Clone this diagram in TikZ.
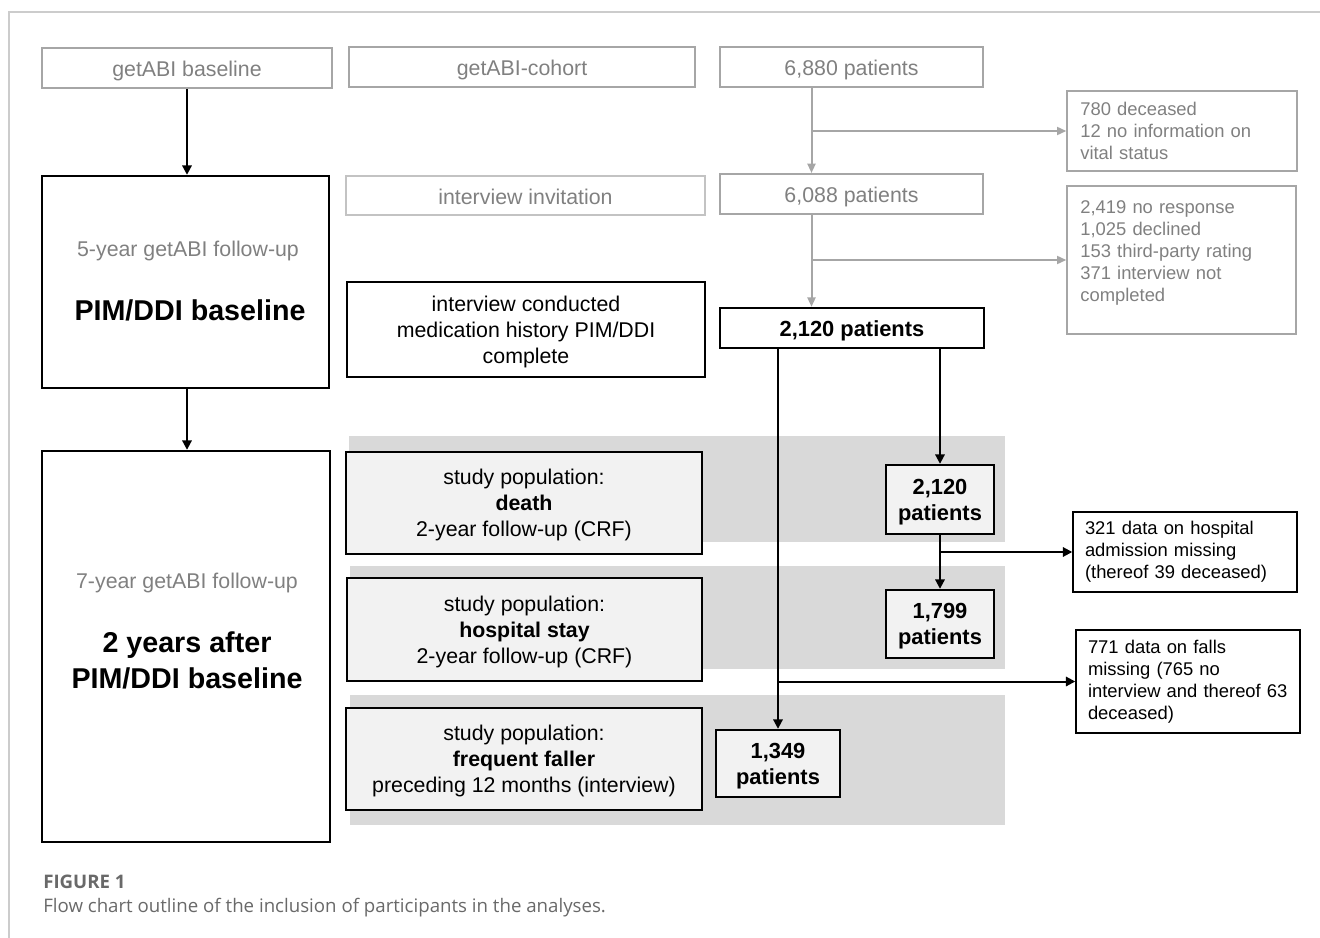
\documentclass[tikz,border=0pt]{standalone}
\usepackage{fontspec}
\setmainfont{Liberation Sans}
\newfontfamily\capfont{Open Sans}
\usepackage{tikz}
\usetikzlibrary{arrows.meta,calc}
\definecolor{framegrey}{RGB}{204,204,204}
\definecolor{boxgrey}{RGB}{166,166,166}
\definecolor{lightgrey}{RGB}{195,195,195}
\definecolor{textgrey}{RGB}{128,128,128}
\definecolor{bandgrey}{RGB}{217,217,217}
\definecolor{fillgrey}{RGB}{242,242,242}
\definecolor{capgrey}{RGB}{105,105,105}

\tikzset{
  greybox/.style={draw=boxgrey, line width=1.5pt, text=textgrey, inner sep=0pt, text height=13pt, text depth=0pt, font=\fontsize{16}{19.5}\selectfont},
  blackbox/.style={draw=black, line width=1.8pt, inner sep=0pt, align=center, text depth=0pt, font=\fontsize{16}{19.5}\selectfont},
  studybox/.style={blackbox, fill=fillgrey},
  countbox/.style={blackbox, fill=fillgrey, font=\bfseries\fontsize{16.4}{19.5}\selectfont},
  notegrey/.style={draw=boxgrey, line width=1pt, text=textgrey, align=left, inner xsep=10pt, inner ysep=0pt, font=\fontsize{13.8}{16.5}\selectfont},
  noteblack/.style={draw=black, line width=1.1pt, align=left, inner xsep=9pt, inner ysep=0pt, font=\fontsize{13.8}{16.5}\selectfont},
  greylabel/.style={text=textgrey, inner sep=0pt, font=\fontsize{16}{19.5}\selectfont},
  biglabel/.style={inner sep=0pt, align=center, font=\bfseries\fontsize{21.5}{27}\selectfont},
  greyarrow/.style={draw=boxgrey, line width=1.5pt, -{Triangle[length=7pt,width=6pt]}},
  blackarrow/.style={draw=black, line width=1.5pt, -{Triangle[length=7pt,width=7pt]}},
}

\begin{document}
\begin{tikzpicture}[x=0.75pt,y=0.75pt,yscale=-1,xscale=1]
\useasboundingbox (0,0) rectangle (1320,938);

%Frame
\draw [framegrey, line width=1.1pt] (1320,12) -- (9,12) -- (9,938) ;

%Grey bands behind the study populations
\fill [bandgrey] (349,436) rectangle (1005,542) ;
\fill [bandgrey] (350,566) rectangle (1005,669) ;
\fill [bandgrey] (350,695) rectangle (1005,825) ;

%Top row
\node [greybox, minimum width=217.5pt, minimum height=30pt] (base) at (187,68) {getABI baseline};
\node [greybox, minimum width=259.5pt, minimum height=30pt] (cohort) at (522,67) {getABI-cohort};
\node [greybox, minimum width=197.25pt, minimum height=30pt] (n6880) at (851.5,67) {6,880 patients};
\node [notegrey, text width=152.5pt, minimum height=60pt] (excl1) at (1182,131) {780 deceased\\12 no information on\\vital status};

%Second row
\node [greybox, draw=lightgrey, minimum width=269.25pt, minimum height=29.25pt] (invite) at (525.5,195.5) {interview invitation};
\node [greybox, minimum width=197.25pt, minimum height=30pt] (n6088) at (851.5,194) {6,088 patients};
\node [notegrey, text width=151.75pt, minimum height=111pt] (excl2) at (1181.5,260) {2,419 no response\\1,025 declined\\153 third-party rating\\371 interview not\\completed\par\vspace{11pt}};

%Follow-up boxes (left column)
\node [blackbox, minimum width=215.25pt, minimum height=159pt] (fu5) at (185.5,282) {};
\node [greylabel] (fu5a) at (188,251) {5-year getABI follow-up};
\node [biglabel] (fu5b) at (190,310) {PIM/DDI baseline};
\node [blackbox, minimum width=216pt, minimum height=293.25pt] (fu7) at (186,646.5) {};
\node [greylabel] (fu7a) at (187,583) {7-year getABI follow-up};
\node [biglabel] (fu7b) at (187,660) {2 years after\\PIM/DDI baseline};

%Interview conducted
\node [blackbox, minimum width=268.5pt, minimum height=71.25pt] (conduct) at (526,329.5) {interview conducted\\medication history PIM/DDI\\complete};
\node [countbox, fill=white, text height=13pt, minimum width=198pt, minimum height=30pt] (n2120) at (852,328) {2,120 patients};

%Study populations
\node [studybox, minimum width=267pt, minimum height=76.5pt] (death) at (524,503) {study population:\\\textbf{death}\\2-year follow-up (CRF)};
\node [studybox, minimum width=266.25pt, minimum height=77.25pt] (hosp) at (524.5,629.5) {study population:\\\textbf{hospital stay}\\2-year follow-up (CRF)};
\node [studybox, minimum width=267pt, minimum height=76.5pt] (faller) at (524,759) {study population:\\\textbf{frequent faller}\\preceding 12 months (interview)};

%Patient counts
\node [countbox, minimum width=81pt, minimum height=51.75pt] (d2120) at (940,499.5) {2,120\\patients};
\node [countbox, minimum width=81pt, minimum height=51pt] (h1799) at (940,624) {1,799\\patients};
\node [countbox, minimum width=93pt, minimum height=50.25pt] (f1349) at (778,763.5) {1,349\\patients};

%Missing data
\node [noteblack, text width=150pt, minimum height=60pt] (excl3) at (1185,552) {321 data on hospital\\admission missing\\(thereof 39 deceased)\par\vspace{-4.5pt}};
\node [noteblack, text width=150pt, minimum height=77.25pt] (excl4) at (1188,681.5) {771 data on falls\\missing (765 no\\interview and thereof 63\\deceased)\par\vspace{-3pt}};

%Connectors, left column
\draw [blackarrow] (base.south) -- (base.south |- fu5.north) ;
\draw [blackarrow] (fu5.south -| base.south) -- (base.south |- fu7.north) ;

%Connectors, grey flow
\coordinate (s6880) at ($(n6880.south)+(-40,0)$) ;
\coordinate (s6088) at ($(n6088.south)+(-40,0)$) ;
\draw [greyarrow] (s6880) -- (s6880 |- n6088.north) ;
\draw [greyarrow] (s6880 |- excl1.west) -- (excl1.west) ;
\draw [greyarrow] (s6088) -- (s6088 |- n2120.north) ;
\draw [greyarrow] (s6088 |- excl2.west) -- (excl2.west) ;

%Connectors, black flow
\draw [blackarrow] (d2120.north |- n2120.south) -- (d2120.north) ;
\draw [blackarrow] (f1349.north |- n2120.south) -- (f1349.north) ;
\draw [blackarrow] (d2120.south) -- (h1799.north) ;
\draw [blackarrow] (d2120.south |- excl3.west) -- (excl3.west) ;
\draw [blackarrow] (f1349.north |- excl4.west) -- (excl4.west) ;

%Caption
\node [anchor=west, inner sep=0pt, text=capgrey, font=\capfont\bfseries\fontsize{14}{16}\selectfont] (figlabel) at (43,882) {FIGURE 1};
\node [anchor=west, inner sep=0pt, text=capgrey, font=\capfont\fontsize{14}{16}\selectfont] (figcaption) at (43,908) {Flow chart outline of the inclusion of participants in the analyses.};

\end{tikzpicture}
\end{document}
